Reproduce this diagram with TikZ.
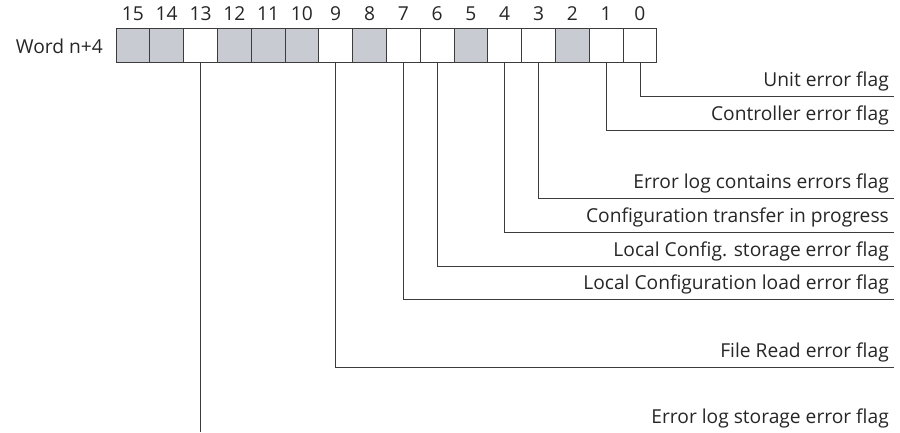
\documentclass[tikz,border=0pt]{standalone}
\usepackage{fontspec}
\setmainfont{Open Sans}
\definecolor{cellgrey}{RGB}{201,203,211}
\definecolor{linegrey}{RGB}{60,60,60}
\begin{document}
\begin{tikzpicture}[x=1pt,y=-1pt,
  cell/.style={draw=linegrey,line width=0.9pt,minimum width=33.8pt,minimum height=34.5pt,inner sep=0pt,outer sep=0pt},
  grey/.style={cell,fill=cellgrey},
  txt/.style={font=\fontsize{19.2}{20}\selectfont,inner sep=0pt,text=black!85},
  bitnum/.style={txt,anchor=base},
  flag/.style={txt,anchor=base east},
  conn/.style={draw=linegrey,line width=0.8pt}]
\useasboundingbox (0,0) rectangle (900,432);
% cells
\foreach \b/\s in {15/grey,14/grey,13/cell,12/grey,11/grey,10/grey,9/cell,8/grey,7/cell,6/cell,5/grey,4/cell,3/cell,2/grey,1/cell,0/cell}{
  \node[\s] (c\b) at ({116+(15.5-\b)*33.8},45.3) {};
  \node[bitnum] (n\b) at ({116+(15.5-\b)*33.8},20.5) {\b};
}
\node[txt,anchor=base east] (word) at (103,53) {Word n+4};
% flags
\node[flag] (f0) at (889,86.5) {Unit error flag};
\node[flag] (f1) at (889,120.5) {Controller error flag};
\node[flag] (f3) at (889,188) {Error log contains errors flag};
\node[flag] (f4) at (889,222) {Configuration transfer in progress};
\node[flag] (f6) at (889,256) {Local Config. storage error flag};
\node[flag] (f7) at (889,289.5) {Local Configuration load error flag};
\node[flag] (f9) at (889,357) {File Read error flag};
\node[flag] (f13) at (889,423) {Error log storage error flag};
\coordinate (e0) at (894,96);
\coordinate (e1) at (894,130);
\coordinate (e3) at (894,198);
\coordinate (e4) at (894,232);
\coordinate (e6) at (894,266);
\coordinate (e7) at (894,299);
\coordinate (e9) at (894,367);
\coordinate (e13) at (200.5,432);
\foreach \b in {0,1,3,4,6,7,9}{
  \draw[conn] (c\b.south) |- (e\b);
}
\draw[conn] (c13.south) -- (c13.south |- e13);
\end{tikzpicture}
\end{document}
